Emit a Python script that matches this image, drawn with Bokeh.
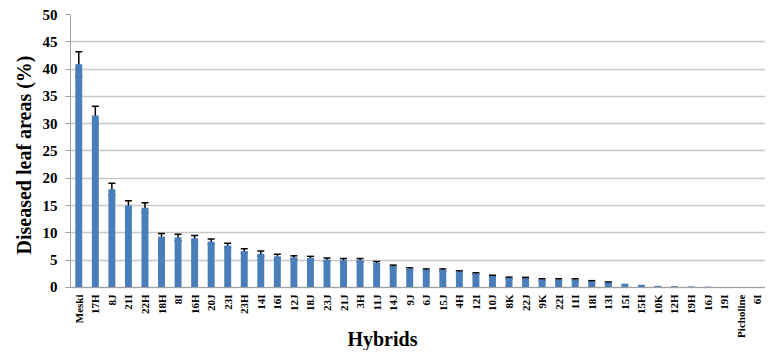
from bokeh.plotting import figure
from bokeh.models import (ColumnDataSource, FactorRange, Range1d, Whisker, TeeHead,
                          FixedTicker, Label, Title)
from bokeh.embed import file_html
from bokeh.resources import INLINE
import math

hybrids = ["Meski", "17H", "8J", "21I", "22H", "18H", "8I", "16H", "20J", "23I",
           "23H", "14I", "16I", "12J", "18J", "23J", "21J", "3H", "11J", "14J",
           "9J", "6J", "15J", "4H", "12I", "10J", "8K", "22J", "9K", "22I",
           "11I", "18I", "13I", "15I", "15H", "10K", "12H", "19H", "16J", "19I",
           "Picholine", "6I"]
diseased = [40.9, 31.5, 18.0, 15.0, 14.6, 9.3, 9.15, 9.0, 8.4, 7.7,
            6.7, 6.2, 5.7, 5.5, 5.4, 5.1, 5.0, 5.0, 4.5, 3.9,
            3.4, 3.2, 3.2, 2.9, 2.55, 2.1, 1.75, 1.7, 1.45, 1.45,
            1.45, 1.1, 0.9, 0.7, 0.5, 0.3, 0.25, 0.2, 0.15, 0.0,
            0.0, 0.0]
errors = [2.3, 1.7, 1.1, 0.9, 0.9, 0.6, 0.6, 0.5, 0.5, 0.4,
          0.4, 0.5, 0.4, 0.3, 0.3, 0.3, 0.3, 0.3, 0.25, 0.2,
          0.2, 0.2, 0.2, 0.15, 0.15, 0.15, 0.15, 0.15, 0.15, 0.15,
          0.15, 0.15, 0.12, 0.0, 0.0, 0.0, 0.0, 0.0, 0.0, 0.0,
          0.0, 0.0]
y_ticks = [0, 5, 10, 15, 20, 25, 30, 35, 40, 45, 50]

serif = "Liberation Serif"

src = ColumnDataSource(dict(names=hybrids, vals=diseased))
eb_names = [n for n, e in zip(hybrids, errors) if e > 0]
eb_up = [v + e for v, e in zip(diseased, errors) if e > 0]
eb_lo = [v - e for v, e in zip(diseased, errors) if e > 0]
err_src = ColumnDataSource(dict(names=eb_names, upper=eb_up, lower=eb_lo))

# the frame reaches below zero so the category labels and the axis title
# can sit inside it; the axes are pinned to the 0..50 data span
p = figure(width=765, height=350, x_range=FactorRange(factors=hybrids, range_padding=0),
           y_range=Range1d(-11.54, 50), output_backend="svg", toolbar_location=None,
           min_border_left=70, min_border_right=0, min_border_top=14, min_border_bottom=0)
p.outline_line_color = None
p.background_fill_color = "white"
p.border_fill_color = "white"

p.vbar(x="names", top="vals", width=0.42, source=src, fill_color="#4a7ebb",
       line_color=None)

w = Whisker(base="names", upper="upper", lower="lower", source=err_src,
            line_color="black", line_width=1.5,
            upper_head=TeeHead(size=7, line_color="black", line_width=1.5),
            lower_head=TeeHead(size=7, line_color="black", line_width=1.5))
p.add_layout(w)

p.xgrid.grid_line_color = None
p.ygrid.grid_line_color = "#c8c8c8"
p.ygrid.grid_line_width = 1.5
p.yaxis.ticker = FixedTicker(ticks=y_ticks)
p.yaxis.bounds = (0, 50)
p.yaxis.minor_tick_line_color = None
p.yaxis.major_tick_in = 0
p.yaxis.major_tick_out = 5
p.yaxis.axis_line_color = "#a0a0a0"
p.yaxis.major_tick_line_color = "#a0a0a0"
p.yaxis.major_label_text_font = serif
p.yaxis.major_label_text_font_style = "bold"
p.yaxis.major_label_text_font_size = "15px"
p.yaxis.major_label_text_color = "black"
p.yaxis.major_label_standoff = 8

ytitle = Title(text="Diseased leaf areas (%)", align="left", offset=96, standoff=10,
               text_font=serif, text_font_style="bold", text_font_size="20px",
               text_color="black")
p.add_layout(ytitle, "left")

p.xaxis.fixed_location = 0
p.xaxis.axis_line_color = "#a0a0a0"
p.xaxis.major_tick_line_color = None
p.xaxis.major_tick_out = 0
p.xaxis.major_tick_in = 0
p.xaxis.minor_tick_line_color = None
p.xaxis.major_label_orientation = math.pi / 2
p.xaxis.major_label_text_font = serif
p.xaxis.major_label_text_font_style = "bold"
p.xaxis.major_label_text_font_size = "11px"
p.xaxis.major_label_text_color = "black"
p.xaxis.major_label_standoff = 7

xt = Label(x=18.85, y=-9.5, text="Hybrids", text_font=serif,
           text_font_style="bold", text_font_size="20px", text_color="black",
           text_align="center", text_baseline="middle")
p.add_layout(xt)

open("out.html", "w").write(file_html(p, INLINE))
